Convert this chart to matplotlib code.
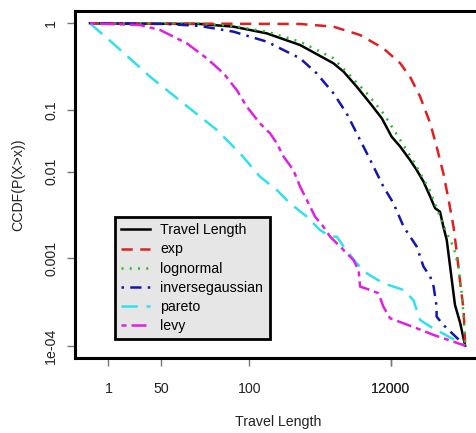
import matplotlib
matplotlib.use("Agg")
import matplotlib.pyplot as plt

plt.rcParams['font.family'] = ['Liberation Sans', 'DejaVu Sans']

# x: horizontal position (0 = first point, 100 = last point); y: log10-like position of CCDF
tl_x = [0, 29.3, 38.2, 47.1, 56.0, 64.9, 67.6, 71.1, 74.7, 77.8, 80.4, 82.7, 85.3, 87.1,
        88.9, 90.7, 92.0, 93.3, 94.2, 95.1, 96.0, 96.9, 97.3, 98.7, 100]
tl_y = [0, -0.008, -0.041, -0.124, -0.269, -0.496, -0.600, -0.786, -0.993, -1.179, -1.406,
        -1.530, -1.696, -1.820, -1.964, -2.151, -2.295, -2.337, -2.523, -2.688, -3.019,
        -3.350, -3.495, -3.722, -4.0]

exp_x = [0, 56.0, 64.9, 72.0, 78.2, 82.7, 85.3, 88.0, 90.7, 92.4, 94.2, 95.6, 96.9, 97.8,
         98.7, 99.6, 100]
exp_y = [0, -0.008, -0.041, -0.145, -0.310, -0.496, -0.662, -0.910, -1.241, -1.530, -1.861,
         -2.192, -2.523, -2.854, -3.226, -3.557, -4.0]

logn_x = [0, 29.3, 38.2, 47.1, 56.0, 64.9, 73.8, 78.2, 82.7, 87.1, 90.7, 93.3, 95.1, 96.9,
          98.2, 99.1, 99.6, 100]
logn_y = [0, 0, -0.033, -0.103, -0.227, -0.434, -0.868, -1.117, -1.447, -1.778, -2.088,
          -2.399, -2.606, -2.771, -3.019, -3.350, -3.639, -4.0]

ig_x = [0, 20.4, 29.3, 38.2, 47.1, 56.0, 60.4, 64.9, 68.4, 72.0, 74.7, 78.2, 80.9, 83.6,
        87.1, 88.9, 90.7, 91.6, 92.4, 92.4, 94.2, 100]
ig_y = [0, -0.008, -0.033, -0.103, -0.227, -0.434, -0.620, -0.868, -1.117, -1.447, -1.695,
        -2.026, -2.233, -2.523, -2.771, -3.019, -3.143, -3.267, -3.515, -3.639, -3.743, -4.0]

par_x = [0, 7.1, 16.0, 24.9, 33.8, 40.0, 45.3, 49.8, 53.3, 57.8, 61.3, 64.0, 65.8, 67.6,
         71.1, 73.8, 78.2, 80.9, 83.6, 86.2, 88.0, 90.7, 100]
par_y = [0, -0.289, -0.662, -0.993, -1.323, -1.613, -1.902, -2.068, -2.233, -2.399, -2.564,
         -2.647, -2.647, -2.771, -2.978, -3.102, -3.226, -3.267, -3.309, -3.433, -3.681,
         -3.763, -4.0]

levy_x = [0, 13.3, 18.7, 25.8, 31.1, 35.6, 39.1, 41.8, 45.3, 48.0, 49.8, 51.6, 54.2, 56.0,
          57.8, 60.0, 62.2, 64.0, 66.7, 70.2, 71.6, 72.0, 74.7, 76.9, 78.2, 80.0, 87.1,
          91.6, 100]
levy_y = [0, -0.021, -0.083, -0.248, -0.434, -0.620, -0.827, -1.034, -1.241, -1.365, -1.489,
          -1.654, -1.820, -2.026, -2.192, -2.399, -2.523, -2.647, -2.771, -2.936, -3.060,
          -3.267, -3.309, -3.350, -3.515, -3.660, -3.784, -3.867, -4.0]

xtick_pos = [4.9, 18.9, 42.5, 80.2, 80.2]
xtick_lab = ['1', '50', '100', '10000', '12000']
ytick_pos = [0, -1.075, -1.840, -2.916, -4.0]
ytick_lab = ['1', '0.1', '0.01', '0.001', '1e-04']

fig = plt.figure(figsize=(4.76, 4.33), dpi=100)
ax = fig.add_axes([75 / 476, 75 / 433, 407 / 476, 347 / 433])

lw = 1.8
ax.plot(tl_x, tl_y, color='black', lw=lw, label='Travel Length')
ax.plot(exp_x, exp_y, color='#E02020', lw=lw, dashes=(4.5, 3), label='exp')
ax.plot(logn_x, logn_y, color='#22C022', lw=lw, dashes=(0.8, 2.5), label='lognormal')
ax.plot(ig_x, ig_y, color='#1515B0', lw=lw, dashes=(1, 2.5, 4.5, 2.5), label='inversegaussian')
ax.plot(par_x, par_y, color='#30E0F0', lw=lw, dashes=(6.5, 3.5), label='pareto')
ax.plot(levy_x, levy_y, color='#E020E0', lw=lw, dashes=(2, 2, 6, 2), label='levy')

ax.set_xlim(-4.0, 104.5)
ax.set_ylim(-4.153, 0.153)

ax.set_xticks(xtick_pos, labels=xtick_lab)
ax.set_yticks(ytick_pos, labels=ytick_lab)
plt.setp(ax.get_yticklabels(), rotation=90, va='center')
ax.tick_params(axis='both', direction='out', length=6, width=1, color='#777777',
               labelsize=10.2, labelcolor='#222222')
ax.tick_params(axis='x', pad=11)
ax.tick_params(axis='y', pad=6)
ax.get_xticklabels()[4].set_alpha(0.85)

for s in ax.spines.values():
    s.set_linewidth(2.2)

ax.set_xlabel('Travel Length', fontsize=10.2, color='#222222', labelpad=14)
ax.set_ylabel('CCDF(P(X>x))', fontsize=10.2, color='#222222', labelpad=14)

leg = ax.legend(loc='upper left', bbox_to_anchor=(40 / 407, 141 / 347), borderaxespad=0,
                fancybox=False, edgecolor='black', facecolor='#E6E6E6', framealpha=1,
                fontsize=10.2, handlelength=2.0, handletextpad=0.75, labelspacing=0.36,
                borderpad=0.45)
leg.get_frame().set_linewidth(2)

fig.savefig('out.png', dpi=100)
